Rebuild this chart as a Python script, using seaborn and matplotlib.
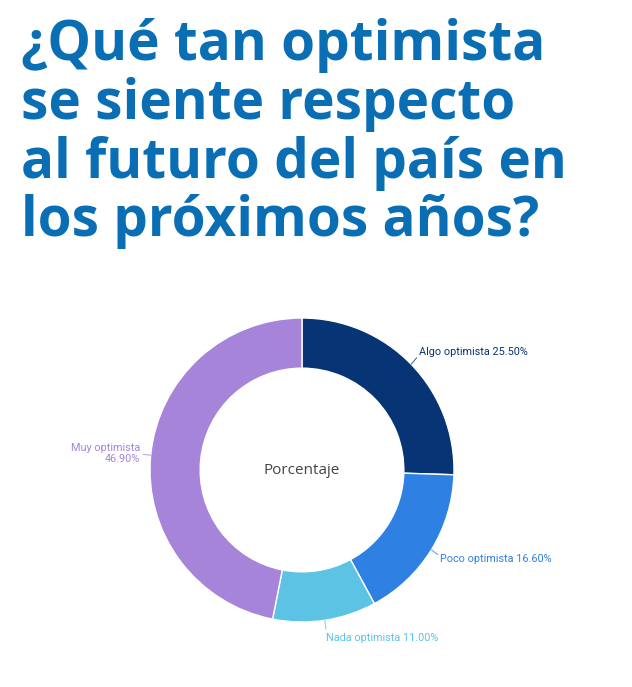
import numpy as np
import matplotlib.pyplot as plt
import seaborn as sns

# datos
categorias = ["Algo optimista", "Poco optimista", "Nada optimista", "Muy optimista"]
porcentajes = [25.50, 16.60, 11.00, 46.90]
colores = ["#063474", "#2f80e3", "#5cc3e4", "#a684da"]
etiquetas = ["Algo optimista 25.50%", "Poco optimista 16.60%",
             "Nada optimista 11.00%", "Muy optimista\n46.90%"]

titulo = "¿Qué tan optimista\nse siente respecto\nal futuro del país en\nlos próximos años?"

sns.set_theme(style="white")
plt.rcParams['font.family'] = ['Open Sans', 'DejaVu Sans']

W, H = 632, 687
fig = plt.figure(figsize=(W / 100, H / 100), dpi=100)
fig.patch.set_facecolor("white")

# eje del donut: centro (302, 470) px, radio 152 px
cx, cy, R = 302, 470, 152
x0, x1, y0, y1 = -1.9, 2.0, -1.4, 1.4
ax = fig.add_axes([(cx + x0 * R) / W, (H - cy + y0 * R) / H,
                   (x1 - x0) * R / W, (y1 - y0) * R / H])

wedges, _ = ax.pie(porcentajes, colors=colores, startangle=90, counterclock=False,
                   radius=1.0, wedgeprops=dict(width=0.33, edgecolor="white", linewidth=1))
ax.set_xlim(x0, x1)
ax.set_ylim(y0, y1)
ax.axis("off")

ax.text(0, 0, "Porcentaje", ha="center", va="center", fontsize=11, color="#444444")

# etiquetas con líneas guía
for w, txt, col in zip(wedges, etiquetas, colores):
    ang = np.deg2rad((w.theta1 + w.theta2) / 2)
    dx, dy = np.cos(ang), np.sin(ang)
    ax.plot([dx * 1.0, dx * 1.05], [dy * 1.0, dy * 1.06], color=col, lw=0.7, alpha=0.8)
    ha = "left" if dx > -0.2 else "right"
    ax.text(dx * 1.07, dy * 1.12, txt, ha=ha, va="center", fontsize=7.8, color=col,
            linespacing=1.1, family=["Roboto", "DejaVu Sans"])

fig.text(21 / W, 1 - 18 / H, titulo, ha="left", va="top", fontsize=39.5,
         fontweight="bold", color="#0a6eb4", linespacing=1.09)

plt.savefig("out.png", dpi=100)
